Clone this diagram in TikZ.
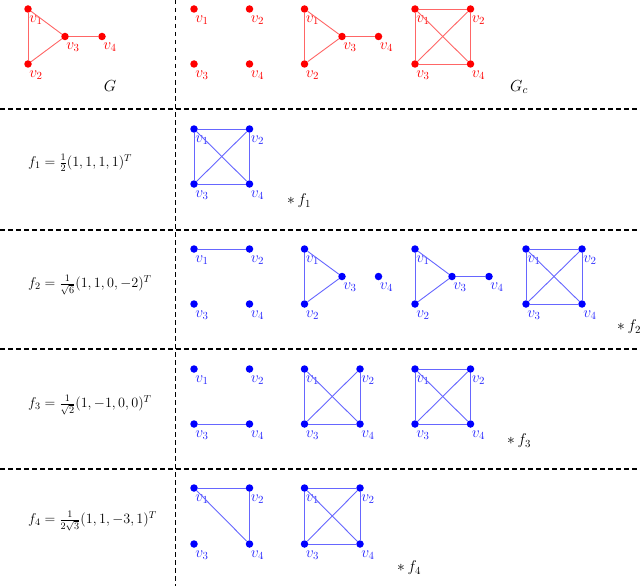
\RequirePackage{fix-cm}
\documentclass[tikz,border=0pt]{standalone}
\begin{document}
\begin{tikzpicture}[x=1pt,y=-1pt,
 dl/.style={dash pattern=on 4.5pt off 3.5pt, line width=1.3pt},
 lab/.style={anchor=north west, inner sep=0pt, xshift=-1.6pt, yshift=-3.4pt, font=\fontsize{15.5}{18}\selectfont},
 rlab/.style={lab, text=red},
 blab/.style={lab, text=blue!85},
 rv/.style={circle, fill=red, inner sep=0pt, minimum size=7.5pt, label={[rlab]south east:$#1$}},
 bv/.style={circle, fill=blue, inner sep=0pt, minimum size=7.5pt, label={[blab]south east:$#1$}},
 re/.style={draw=red!60, line width=0.9pt},
 be/.style={draw=blue!60, line width=0.9pt},
 fml/.style={anchor=west, inner sep=0pt, font=\fontsize{14.2}{17}\selectfont},
 big/.style={inner sep=0pt, font=\fontsize{16}{19}\selectfont},
 star/.style={anchor=west, inner sep=0pt, font=\fontsize{15.5}{18}\selectfont},
]
\useasboundingbox (0,0) rectangle (640,586);

% separators
\coordinate (h1l) at (0,109); \coordinate (h1r) at (640,109);
\coordinate (h2l) at (0,230); \coordinate (h2r) at (640,230);
\coordinate (h3l) at (0,349); \coordinate (h3r) at (640,349);
\coordinate (h4l) at (0,469); \coordinate (h4r) at (640,469);
\coordinate (vt) at (175.5,0); \coordinate (vb) at (175.5,586);
\draw[dl] (h1l) -- (h1r);
\draw[dl] (h2l) -- (h2r);
\draw[dl] (h3l) -- (h3r);
\draw[dl] (h4l) -- (h4r);
\draw[dl] (vt) -- (vb);

% ---------- Row 1 ----------
\node[rv=v_1] (g1) at (28,9) {};
\node[rv=v_2] (g2) at (28,64) {};
\node[rv=v_3] (g3) at (65,36.5) {};
\node[rv=v_4] (g4) at (102,36.5) {};
\draw[re] (g1) -- (g2); \draw[re] (g1) -- (g3); \draw[re] (g2) -- (g3); \draw[re] (g3) -- (g4);
\node[big] (lG) at (110,86) {$G$};

\node[rv=v_1] (a1) at (194,9) {};
\node[rv=v_2] (a2) at (249.5,9) {};
\node[rv=v_3] (a3) at (194,64) {};
\node[rv=v_4] (a4) at (249.5,64) {};

\node[rv=v_1] (b1) at (304.5,9) {};
\node[rv=v_2] (b2) at (304.5,64) {};
\node[rv=v_3] (b3) at (342,36.5) {};
\node[rv=v_4] (b4) at (378.5,36.5) {};
\draw[re] (b1) -- (b2); \draw[re] (b1) -- (b3); \draw[re] (b2) -- (b3); \draw[re] (b3) -- (b4);

\node[rv=v_1] (c1) at (415,9) {};
\node[rv=v_2] (c2) at (470.5,9) {};
\node[rv=v_3] (c3) at (415,64) {};
\node[rv=v_4] (c4) at (470.5,64) {};
\draw[re] (c1) -- (c2); \draw[re] (c1) -- (c3); \draw[re] (c2) -- (c4); \draw[re] (c3) -- (c4);
\draw[re] (c1) -- (c4); \draw[re] (c2) -- (c3);
\node[big] (lGc) at (519,87) {$G_c$};

% ---------- Row 2 ----------
\node[fml] (F1) at (28,163) {$f_1=\frac{1}{2}(1,1,1,1)^T$};
\node[bv=v_1] (d1) at (194,129) {};
\node[bv=v_2] (d2) at (249.5,129) {};
\node[bv=v_3] (d3) at (194,184) {};
\node[bv=v_4] (d4) at (249.5,184) {};
\draw[be] (d1) -- (d2); \draw[be] (d1) -- (d3); \draw[be] (d2) -- (d4); \draw[be] (d3) -- (d4);
\draw[be] (d1) -- (d4); \draw[be] (d2) -- (d3);
\node[star] (S1) at (287,201) {$*\,f_1$};

% ---------- Row 3 ----------
\node[fml] (F2) at (28,285) {$f_2=\frac{1}{\sqrt{6}}(1,1,0,-2)^T$};
\node[bv=v_1] (e1) at (194,249) {};
\node[bv=v_2] (e2) at (249.5,249) {};
\node[bv=v_3] (e3) at (194,304) {};
\node[bv=v_4] (e4) at (249.5,304) {};
\draw[be] (e1) -- (e2);

\node[bv=v_1] (k1) at (304.5,249) {};
\node[bv=v_2] (k2) at (304.5,304) {};
\node[bv=v_3] (k3) at (342,276.5) {};
\node[bv=v_4] (k4) at (378.5,276.5) {};
\draw[be] (k1) -- (k2); \draw[be] (k1) -- (k3); \draw[be] (k2) -- (k3);

\node[bv=v_1] (m1) at (415,249) {};
\node[bv=v_2] (m2) at (415,304) {};
\node[bv=v_3] (m3) at (452,276.5) {};
\node[bv=v_4] (m4) at (489,276.5) {};
\draw[be] (m1) -- (m2); \draw[be] (m1) -- (m3); \draw[be] (m2) -- (m3); \draw[be] (m3) -- (m4);

\node[bv=v_1] (n1) at (526,249) {};
\node[bv=v_2] (n2) at (582,249) {};
\node[bv=v_3] (n3) at (526,304) {};
\node[bv=v_4] (n4) at (582,304) {};
\draw[be] (n1) -- (n2); \draw[be] (n1) -- (n3); \draw[be] (n2) -- (n4); \draw[be] (n3) -- (n4);
\draw[be] (n1) -- (n4); \draw[be] (n2) -- (n3);
\node[star] (S2) at (617,327) {$*\,f_2$};

% ---------- Row 4 ----------
\node[fml] (F3) at (28,405) {$f_3=\frac{1}{\sqrt{2}}(1,-1,0,0)^T$};
\node[bv=v_1] (p1) at (194,369) {};
\node[bv=v_2] (p2) at (249.5,369) {};
\node[bv=v_3] (p3) at (194,424) {};
\node[bv=v_4] (p4) at (249.5,424) {};
\draw[be] (p3) -- (p4);

\node[bv=v_1] (q1) at (304.5,369) {};
\node[bv=v_2] (q2) at (360,369) {};
\node[bv=v_3] (q3) at (304.5,424) {};
\node[bv=v_4] (q4) at (360,424) {};
\draw[be] (q1) -- (q3); \draw[be] (q2) -- (q4); \draw[be] (q3) -- (q4);
\draw[be] (q1) -- (q4); \draw[be] (q2) -- (q3);

\node[bv=v_1] (r1) at (415,369) {};
\node[bv=v_2] (r2) at (470.5,369) {};
\node[bv=v_3] (r3) at (415,424) {};
\node[bv=v_4] (r4) at (470.5,424) {};
\draw[be] (r1) -- (r2); \draw[be] (r1) -- (r3); \draw[be] (r2) -- (r4); \draw[be] (r3) -- (r4);
\draw[be] (r1) -- (r4); \draw[be] (r2) -- (r3);
\node[star] (S3) at (507,441) {$*\,f_3$};

% ---------- Row 5 ----------
\node[fml] (F4) at (28,521) {$f_4=\frac{1}{2\sqrt{3}}(1,1,-3,1)^T$};
\node[bv=v_1] (s1) at (194,488) {};
\node[bv=v_2] (s2) at (249.5,488) {};
\node[bv=v_3] (s3) at (194,544) {};
\node[bv=v_4] (s4) at (249.5,544) {};
\draw[be] (s1) -- (s2); \draw[be] (s1) -- (s4); \draw[be] (s2) -- (s4);

\node[bv=v_1] (t1) at (304.5,488) {};
\node[bv=v_2] (t2) at (360,488) {};
\node[bv=v_3] (t3) at (304.5,544) {};
\node[bv=v_4] (t4) at (360,544) {};
\draw[be] (t1) -- (t2); \draw[be] (t1) -- (t3); \draw[be] (t2) -- (t4); \draw[be] (t3) -- (t4);
\draw[be] (t1) -- (t4); \draw[be] (t2) -- (t3);
\node[star] (S4) at (397,568) {$*\,f_4$};
\end{tikzpicture}
\end{document}
